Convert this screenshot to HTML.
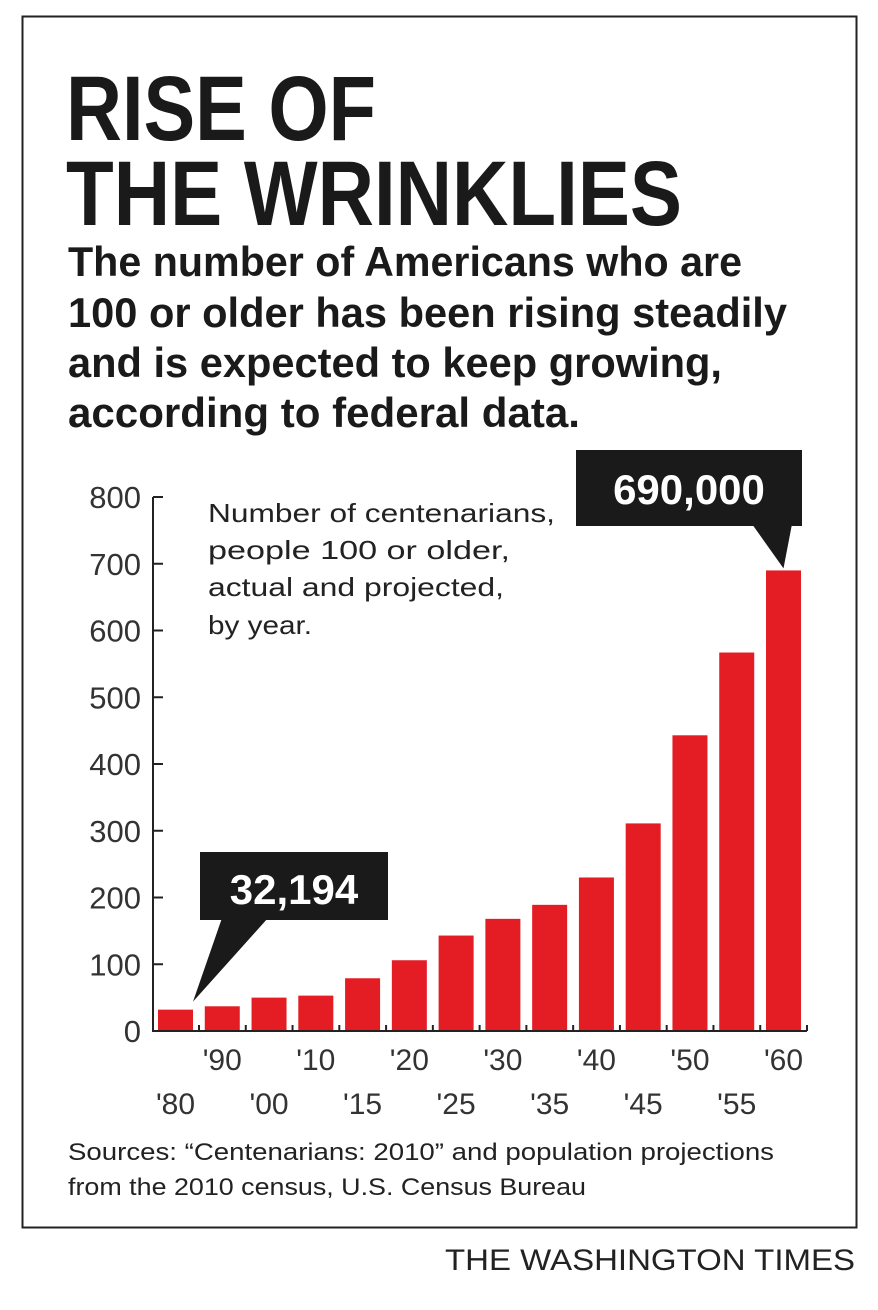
<!DOCTYPE html>
<html><head><meta charset="utf-8"><style>
html,body{margin:0;padding:0;background:#fff;}
svg{display:block;font-family:"Liberation Sans",sans-serif;}
</style></head><body>
<svg id="chart" width="878" height="1310" viewBox="0 0 878 1310">
<rect x="22.5" y="16.5" width="834" height="1211" fill="none" stroke="#222" stroke-width="2"/>
<g fill="#1a1a1a" font-weight="bold">
<text x="66" y="140" font-size="92" textLength="310" lengthAdjust="spacingAndGlyphs">RISE OF</text>
<text x="66" y="225" font-size="92" textLength="616" lengthAdjust="spacingAndGlyphs">THE WRINKLIES</text>
</g>
<g fill="#1a1a1a" font-weight="bold" font-size="42">
<text x="68" y="276" textLength="674" lengthAdjust="spacingAndGlyphs">The number of Americans who are</text>
<text x="68" y="327" textLength="719" lengthAdjust="spacingAndGlyphs">100 or older has been rising steadily</text>
<text x="68" y="377" textLength="654" lengthAdjust="spacingAndGlyphs">and is expected to keep growing,</text>
<text x="68" y="427" textLength="512" lengthAdjust="spacingAndGlyphs">according to federal data.</text>
</g>
<g fill="#222" font-size="26">
<text x="208" y="522" textLength="347" lengthAdjust="spacingAndGlyphs">Number of centenarians,</text>
<text x="208" y="559" textLength="302" lengthAdjust="spacingAndGlyphs">people 100 or older,</text>
<text x="208" y="596" textLength="296" lengthAdjust="spacingAndGlyphs">actual and projected,</text>
<text x="208" y="634" textLength="104" lengthAdjust="spacingAndGlyphs">by year.</text>
</g>
<g id="yaxis"></g>
<g id="bars"></g>
<g id="xaxis"></g>
<g id="callouts"></g>
<g fill="#222" font-size="24">
<text x="68" y="1160" textLength="706" lengthAdjust="spacingAndGlyphs">Sources: “Centenarians: 2010” and population projections</text>
<text x="68" y="1195" textLength="518" lengthAdjust="spacingAndGlyphs">from the 2010 census, U.S. Census Bureau</text>
</g>
<text x="855" y="1270" text-anchor="end" font-size="30" fill="#222" textLength="410" lengthAdjust="spacingAndGlyphs">THE WASHINGTON TIMES</text>
</svg>
<script>
const categories = ["'80","'90","'00","'10","'15","'20","'25","'30","'35","'40","'45","'50","'55","'60"];
const values = [32, 37, 50, 53, 79, 106, 143, 168, 189, 230, 311, 443, 567, 690];
const yTicks = [0, 100, 200, 300, 400, 500, 600, 700, 800];
const firstLabel = "32,194";
const lastLabel = "690,000";

const NS = "http://www.w3.org/2000/svg";
const y0 = 1031, yTop = 497, yMax = 800;
const axisX = 153, firstBarX = 158, lastBarX = 766, barW = 35;
function yScale(v){ return y0 - (v / yMax) * (y0 - yTop); }
function xScale(i){ return firstBarX + i * (lastBarX - firstBarX) / (categories.length - 1); }
function mk(tag, attrs, parent){ const e = document.createElementNS(NS, tag); for (const k in attrs) e.setAttribute(k, attrs[k]); parent.appendChild(e); return e; }

const yaxis = document.getElementById('yaxis');
const bars = document.getElementById('bars');
const xaxis = document.getElementById('xaxis');
const callouts = document.getElementById('callouts');

const yl = mk('line', {x1: axisX, y1: yScale(800), x2: axisX, y2: y0 + 1, stroke: '#222', 'stroke-width': 2}, yaxis);


yTicks.forEach(t => {
  const tk = mk('line', {x1: axisX, y1: yScale(t), x2: axisX + 10, y2: yScale(t), stroke: '#222', 'stroke-width': 2}, yaxis);
  
  
  const lb = mk('text', {x: 141, y: yScale(t) + 11, 'text-anchor': 'end', 'font-size': 31, fill: '#333'}, yaxis);
  lb.textContent = t;
  
  
});

values.forEach((v, i) => {
  const r = mk('rect', {x: xScale(i), y: yScale(v), width: barW, height: y0 - yScale(v), fill: '#e41c24'}, bars);
  
  
});

const xl = mk('line', {x1: axisX, y1: y0, x2: xScale(categories.length - 1) + barW + 6, y2: y0, stroke: '#222', 'stroke-width': 2}, xaxis);


categories.forEach((c, i) => {
  const gx = xScale(i) + barW + 6;
  const tk = mk('line', {x1: gx, y1: y0 - 6, x2: gx, y2: y0, stroke: '#222', 'stroke-width': 2}, xaxis);
  
  
  const lb = mk('text', {x: xScale(i) + barW / 2, y: i % 2 ? 1070 : 1114, 'text-anchor': 'middle', 'font-size': 30, fill: '#333'}, xaxis);
  lb.textContent = c;
  
  
});

// first-value callout
const fx = xScale(0) + barW, fy = yScale(values[0]);
const b1 = mk('rect', {x: 200, y: 852, width: 188, height: 68, fill: '#1a1a1a'}, callouts);


const p1 = mk('polygon', {points: `222,918 268,918 ${fx},${fy - 8}`, fill: '#1a1a1a'}, callouts);


const t1 = mk('text', {x: 294, y: 904, 'text-anchor': 'middle', 'font-size': 42, 'font-weight': 'bold', fill: '#fff'}, callouts);
t1.textContent = firstLabel;



// last-value callout
const li = values.length - 1;
const lx = xScale(li) + barW / 2, ly = yScale(values[li]);
const b2 = mk('rect', {x: 576, y: 450, width: 226, height: 76, fill: '#1a1a1a'}, callouts);


const p2 = mk('polygon', {points: `752,524 792,524 ${lx},${ly - 2}`, fill: '#1a1a1a'}, callouts);


const t2 = mk('text', {x: 689, y: 504, 'text-anchor': 'middle', 'font-size': 42, 'font-weight': 'bold', fill: '#fff'}, callouts);
t2.textContent = lastLabel;


</script>
</body></html>
